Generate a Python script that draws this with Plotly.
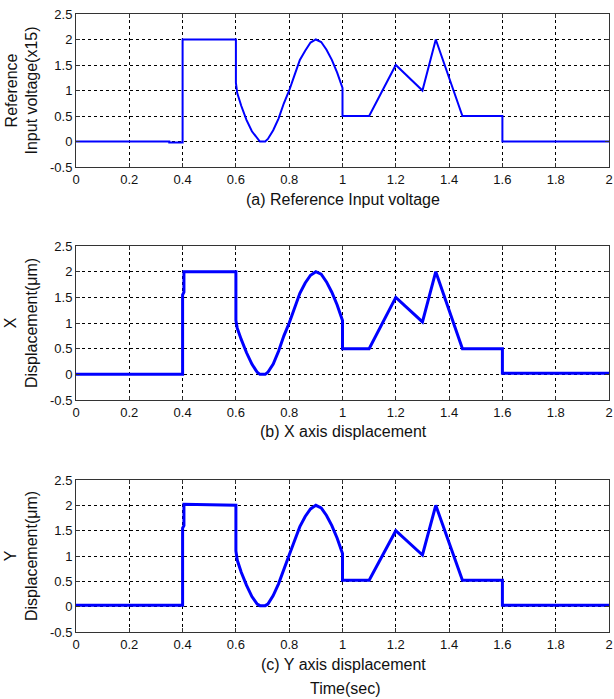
import plotly.graph_objects as go

W, H = 614, 699

# ---------------- data ----------------
x_ticks = [0, 0.2, 0.4, 0.6, 0.8, 1.0, 1.2, 1.4, 1.6, 1.8, 2.0]
x_tick_labels = ["0", "0.2", "0.4", "0.6", "0.8", "1", "1.2", "1.4", "1.6", "1.8", "2"]
y_ticks = [-0.5, 0, 0.5, 1, 1.5, 2, 2.5]
y_tick_labels = ["-0.5", "0", "0.5", "1", "1.5", "2", "2.5"]

t_ref = [0, 0.35, 0.35, 0.4, 0.4, 0.6, 0.6, 0.605, 0.62, 0.64, 0.66, 0.68, 0.69, 0.71,
         0.72, 0.74, 0.76, 0.78, 0.8, 0.82, 0.84, 0.86, 0.88, 0.9, 0.92, 0.94, 0.96,
         0.98, 1.0, 1.0, 1.1, 1.2, 1.3, 1.35, 1.45, 1.6, 1.6, 2.0]
v_ref = [0, 0, -0.02, -0.02, 2.0, 2.0, 1.15, 0.95, 0.7, 0.42, 0.2, 0.05, 0.0, 0.0,
         0.05, 0.22, 0.45, 0.75, 1.0, 1.3, 1.6, 1.78, 1.94, 2.0, 1.95, 1.8, 1.6,
         1.35, 1.05, 0.5, 0.5, 1.5, 1.0, 2.0, 0.5, 0.5, 0.0, 0.0]

t_x = [0, 0.4, 0.4, 0.405, 0.405, 0.6, 0.6, 0.605, 0.62, 0.64, 0.66, 0.68, 0.69, 0.71,
       0.72, 0.74, 0.76, 0.78, 0.8, 0.82, 0.84, 0.86, 0.88, 0.9, 0.92, 0.94, 0.96,
       0.98, 1.0, 1.0, 1.1, 1.2, 1.3, 1.35, 1.45, 1.6, 1.6, 2.0]
v_x = [0.0, 0.0, 1.55, 1.6, 2.0, 2.0, 1.05, 0.9, 0.68, 0.42, 0.2, 0.04, 0.0, 0.0,
       0.04, 0.2, 0.45, 0.75, 1.0, 1.3, 1.58, 1.78, 1.93, 2.0, 1.95, 1.8, 1.6,
       1.35, 1.05, 0.5, 0.5, 1.5, 1.02, 2.0, 0.5, 0.5, 0.02, 0.02]

t_y = [0, 0.4, 0.4, 0.405, 0.405, 0.6, 0.6, 0.605, 0.62, 0.64, 0.66, 0.68, 0.69, 0.71,
       0.72, 0.74, 0.76, 0.78, 0.8, 0.82, 0.84, 0.86, 0.88, 0.9, 0.92, 0.94, 0.96,
       0.98, 1.0, 1.0, 1.1, 1.2, 1.3, 1.35, 1.45, 1.6, 1.6, 2.0]
v_y = [0.03, 0.03, 1.55, 1.6, 2.02, 2.0, 1.1, 0.92, 0.68, 0.42, 0.2, 0.05, 0.02, 0.02,
       0.05, 0.22, 0.45, 0.75, 1.02, 1.3, 1.58, 1.78, 1.93, 2.0, 1.95, 1.8, 1.6,
       1.35, 1.05, 0.52, 0.52, 1.5, 1.02, 2.0, 0.52, 0.52, 0.03, 0.03]

panel_titles = ["(a) Reference Input voltage", "(b) X axis displacement", "(c) Y axis displacement"]
y_titles = ["Reference<br>Input voltage(x15)", "X<br>Displacement(μm)", "Y<br>Displacement(μm)"]
x_label = "Time(sec)"

# ---------------- layout geometry (pixels) ----------------
left_px, right_px = 76, 609
panels_px = [(14, 167), (246, 400), (480, 632)]   # (top, bottom)
title_y_px = [199, 431, 664]
widths = [2, 3, 3]

def py(p):
    return 1 - p / H

FONT = "Liberation Sans, Arial, sans-serif"
fig = go.Figure()
series = [(t_ref, v_ref), (t_x, v_x), (t_y, v_y)]
annotations = []
for i, ((t, v), (top, bot)) in enumerate(zip(series, panels_px)):
    sfx = "" if i == 0 else str(i + 1)
    fig.add_trace(go.Scatter(x=t, y=v, mode="lines",
                             line=dict(color="#0000ff", width=widths[i]),
                             xaxis="x" + sfx, yaxis="y" + sfx, showlegend=False))
    common = dict(showline=True, linecolor="#333333", linewidth=1, mirror="ticks",
                  ticks="inside", ticklen=4, tickcolor="#333333",
                  showgrid=True, gridcolor="#000000", griddash="3px,3px", gridwidth=1,
                  zeroline=False, ticklabeloverflow="allow", automargin=False,
                  tickfont=dict(family=FONT, size=13, color="#111111"))
    fig.layout["xaxis" + sfx] = dict(domain=[left_px / W, right_px / W], range=[0, 2],
                                     anchor="y" + sfx, tickvals=x_ticks, ticktext=x_tick_labels,
                                     **common)
    fig.layout["yaxis" + sfx] = dict(domain=[py(bot), py(top)], range=[-0.5, 2.5],
                                     anchor="x" + sfx, tickvals=y_ticks, ticktext=y_tick_labels,
                                     **common)
    annotations.append(dict(text=panel_titles[i], x=343 / W, y=py(title_y_px[i]),
                            xref="paper", yref="paper", showarrow=False,
                            xanchor="center", yanchor="middle",
                            font=dict(family=FONT, size=16, color="#111111")))
    annotations.append(dict(text=y_titles[i], x=21 / W, y=py((top + bot) / 2),
                            xref="paper", yref="paper", showarrow=False, textangle=-90,
                            xanchor="center", yanchor="middle",
                            font=dict(family=FONT, size=16, color="#111111")))

annotations.append(dict(text=x_label, x=345 / W, y=py(688), xref="paper", yref="paper",
                        showarrow=False, xanchor="center", yanchor="middle",
                        font=dict(family=FONT, size=16, color="#111111")))

fig.update_layout(width=W, height=H, margin=dict(l=0, r=0, t=0, b=0, autoexpand=False),
                  paper_bgcolor="white", plot_bgcolor="white",
                  annotations=annotations)
fig.write_html("out.html")
